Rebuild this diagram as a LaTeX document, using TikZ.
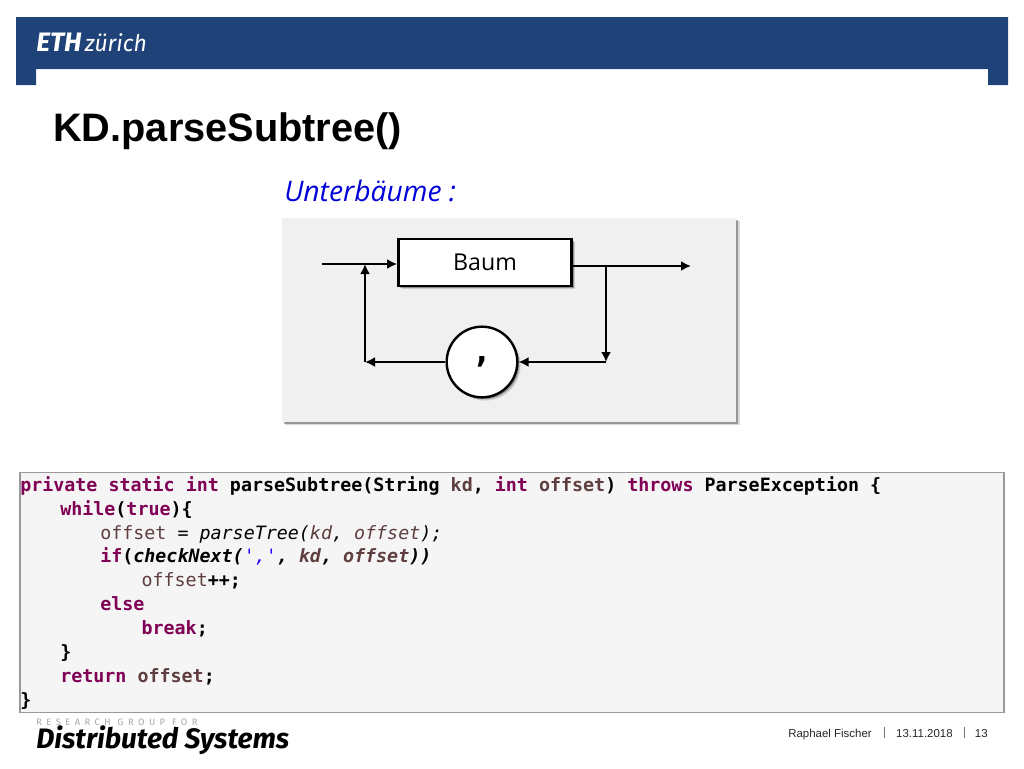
\documentclass[tikz,border=0pt]{standalone}
\usepackage{fontspec}
\setmainfont{Liberation Sans}
\newfontfamily\codefont{DejaVu Sans Mono}
\newfontfamily\labelfont{Open Sans}
\newfontfamily\logofont{Fira Sans}
\usepackage{xcolor}
\usetikzlibrary{arrows,arrows.meta,calc,positioning,shadows}
\definecolor{ethblue}{HTML}{1F4279}
\definecolor{keyword}{HTML}{7F0055}
\definecolor{variable}{HTML}{5E3E3E}
\definecolor{stringblue}{HTML}{2A00FF}
\newcommand{\kw}[1]{\textcolor{keyword}{\bfseries #1}}
\newcommand{\var}[1]{\textcolor{variable}{#1}}
\newcommand{\ind}[1]{\hspace*{#1}}
\tikzset{
        softshadow/.style = {
            drop shadow={shadow xshift=2.4pt,shadow yshift=-2.4pt,fill=black,opacity=.15},
            drop shadow={shadow xshift=1.4pt,shadow yshift=-1.4pt,fill=black,opacity=.3}},
        panel/.style = {rectangle, fill=black!6,
            minimum width=341pt,
            minimum height=153pt,
            softshadow},
        block/.style = {draw, rectangle, fill=white, line width=1.8pt,
            minimum height=35pt,
            minimum width=130pt,
            softshadow},
        sum/.style = {draw, circle, fill=white, line width=1.8pt, minimum size=53pt, inner sep=0pt,
            softshadow},
        arrow/.style = {draw, -{Latex[length=7.5pt,width=7.5pt]}, line width=1.6pt},
        footer/.style = {font=\fontsize{8.6pt}{10pt}\selectfont, text=black!85, inner sep=0pt},
        sep/.style = {draw=black!55, line width=.5pt},
    }

\begin{document}
\begin{tikzpicture}[x=.75pt,y=-.75pt]
    \useasboundingbox (0,0) rectangle (1024,768);
    % header bar
    \fill[ethblue] (16,17) -- (1008,17) -- (1008,85) -- (988,85) -- (988,69)
        -- (36,69) -- (36,85) -- (16,85) -- cycle;
    \node[anchor=base west,inner sep=0pt,text=white,font=\logofont\bfseries\itshape\fontsize{20pt}{22pt}\selectfont] (eth) at (36,51) {ETH};
    \node[inner sep=0pt,text=white,font=\logofont\itshape\fontsize{17.2pt}{20pt}\selectfont,right=2pt of eth.base east,anchor=base west] (zurich) {zürich};

    \node[anchor=base west,inner sep=0pt,font=\bfseries\fontsize{29.8pt}{34pt}\selectfont] (title) at (53,141) {KD.parseSubtree()};
    \node[anchor=base west,inner sep=0pt,text=blue!85!black,font=\labelfont\itshape\fontsize{21.2pt}{24pt}\selectfont] (heading) at (284,201) {Unterbäume :};

    % syntax diagram
    \node[panel] (back) at (509,320) {};
    \node[block,font=\labelfont\fontsize{17.4pt}{22pt}\selectfont] (baum) at (485,262.5) {\raisebox{-1.2pt}{Baum}};
    \node[sum,font=\codefont\bfseries\fontsize{25pt}{26pt}\selectfont] (comma) at (482,362) {,};

    \coordinate (start) at (322,264);
    \coordinate (end) at (691,266);
    \coordinate (in) at (365,264);
    \coordinate (out) at (606,266);
    \coordinate (fork) at (606,362);
    \coordinate (back2) at (365,362);

    \path[arrow] (start) -- (baum.west |- start);
    \path[arrow] (baum.east |- end) -- (end);
    \path[arrow] (out) -- (fork);
    \path[arrow] (fork) -- (comma.east);
    \path[arrow] (comma.west) -- (back2);
    \path[arrow] (back2) -- (in);

    % code
    \node[draw=black!40,fill=black!4,line width=.8pt,minimum width=738pt,minimum height=180.5pt,inner sep=0pt] (box) at (512,592.5) {};
    \node[anchor=north west,inner sep=0pt,align=left,font=\codefont\fontsize{13.75pt}{17.95pt}\selectfont] (code) at (20,476) {%
        \kw{private static int} \textbf{parseSubtree(String} \var{\bfseries kd}\textbf{,} \kw{int} \var{\bfseries offset}\textbf{)} \kw{throws} \textbf{ParseException \{}\\
        \ind{30pt}\kw{while}\textbf{(}\kw{true}\textbf{)\{}\\
        \ind{60pt}\var{offset} = \textit{parseTree(}\var{\itshape kd}\textit{,} \var{\itshape offset}\textit{);}\\
        \ind{60pt}\kw{if}\textbf{(}\textbf{\itshape checkNext(}\textcolor{stringblue}{\itshape ','}\textbf{\itshape ,} \var{\bfseries\itshape kd}\textbf{\itshape ,} \var{\bfseries\itshape offset}\textbf{\itshape ))}\\
        \ind{91pt}\var{offset}\textbf{++;}\\
        \ind{60pt}\kw{else}\\
        \ind{91pt}\kw{break}\textbf{;}\\
        \ind{30pt}\textbf{\}}\\
        \ind{30pt}\kw{return} \var{\bfseries offset}\textbf{;}\\
        \textbf{\}}};

    % footer
    \node[anchor=base west,inner sep=0pt,text=black!35,font=\logofont\fontsize{7pt}{8pt}\addfontfeature{LetterSpace=48}\selectfont] (group) at (36,725) {RESEARCH GROUP FOR};
    \node[anchor=base west,inner sep=0pt,font=\logofont\bfseries\itshape\fontsize{21.1pt}{24pt}\selectfont] (systems) at (36,748) {Distributed Systems};

    \node[footer,anchor=base east] (page) at (988,737) {13};
    \node[footer,anchor=base east] (date) at (953,737) {13.11.2018};
    \node[footer,anchor=base east] (name) at (872,737) {Raphael Fischer};
    \coordinate (s1) at (884,727);
    \coordinate (s2) at (884,738);
    \coordinate (s3) at (964,727);
    \coordinate (s4) at (964,738);
    \draw[sep] (s1) -- (s2);
    \draw[sep] (s3) -- (s4);
\end{tikzpicture}
\end{document}
